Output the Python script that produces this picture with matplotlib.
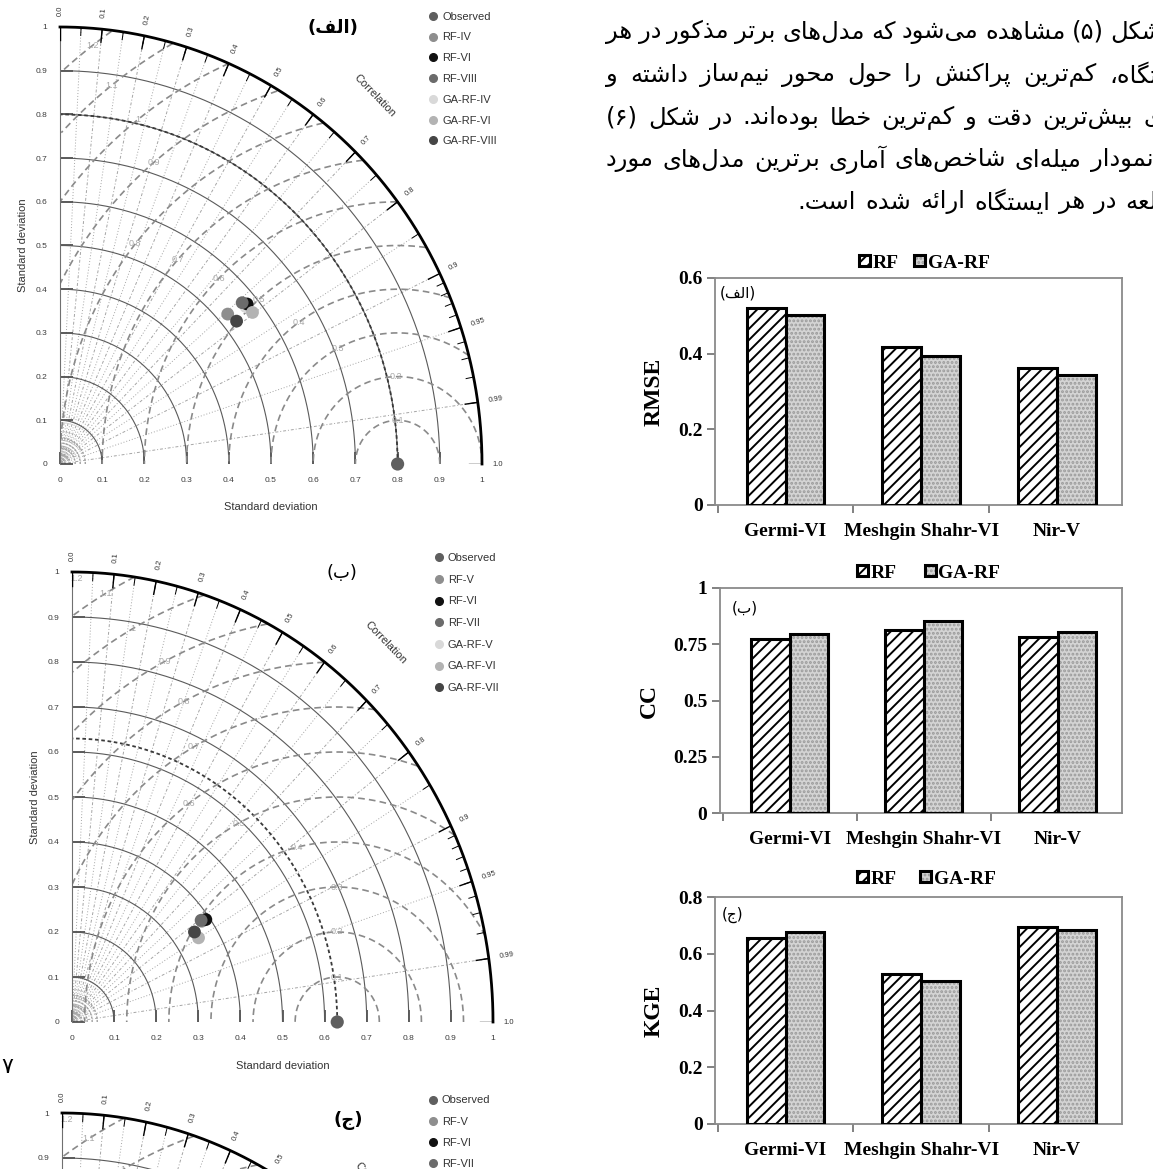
import numpy as np
import matplotlib
matplotlib.use('Agg')
import matplotlib.pyplot as plt
from matplotlib.lines import Line2D

plt.rcParams['font.family'] = ['Liberation Sans', 'DejaVu Sans']
plt.rcParams['hatch.linewidth'] = 1.4

W, H = 1153, 1169

# Taylor diagram (alef): std dev and correlation of each model
t1_obs = 0.80
t1_names = ['RF-IV', 'RF-VI', 'RF-VIII', 'GA-RF-IV', 'GA-RF-VI', 'GA-RF-VIII']
t1_std = [0.525, 0.575, 0.568, 0.569, 0.573, 0.531]
t1_cor = [0.757, 0.771, 0.760, 0.774, 0.796, 0.788]

# Taylor diagram (be)
t2_obs = 0.63
t2_names = ['RF-V', 'RF-VI', 'RF-VII', 'GA-RF-V', 'GA-RF-VI', 'GA-RF-VII']
t2_std = [0.381, 0.391, 0.381, 0.383, 0.354, 0.353]
t2_cor = [0.809, 0.813, 0.805, 0.806, 0.849, 0.824]

# Taylor diagram (jim): only its top edge is on the page
t3_obs = 0.63
t3_names = ['RF-V', 'RF-VI', 'RF-VII', 'GA-RF-V', 'GA-RF-VI', 'GA-RF-VII']

sd_ticks = [0, 0.1, 0.2, 0.3, 0.4, 0.5, 0.6, 0.7, 0.8, 0.9, 1.0]
sd_labels = ['0', '0.1', '0.2', '0.3', '0.4', '0.5', '0.6', '0.7', '0.8', '0.9', '1']
cor_ticks = [0.0, 0.1, 0.2, 0.3, 0.4, 0.5, 0.6, 0.7, 0.8, 0.9, 0.95, 0.99, 1.0]
cor_labels = ['0.0', '0.1', '0.2', '0.3', '0.4', '0.5', '0.6', '0.7', '0.8', '0.9', '0.95', '0.99', '1.0']
rms_levels = [0.1, 0.2, 0.3, 0.4, 0.5, 0.6, 0.7, 0.8, 0.9, 1.0, 1.1, 1.2]
rms_labels = ['0.1', '0.2', '0.3', '0.4', '0.5', '0.6', '0.7', '0.8', '0.9', '1', '1.1', '1.2']

obs_color = '#5f5f5f'
model_colors = ['#8e8e8e', '#111111', '#6b6b6b', '#d9d9d9', '#b3b3b3', '#454545']

# bar charts
stations = ['Germi-VI', 'Meshgin Shahr-VI', 'Nir-V']
rmse_rf = [0.521, 0.417, 0.362]
rmse_ga = [0.503, 0.395, 0.343]
cc_rf = [0.773, 0.815, 0.781]
cc_ga = [0.797, 0.852, 0.806]
kge_rf = [0.655, 0.529, 0.694]
kge_ga = [0.675, 0.505, 0.685]

para = [
    'شکل (\u06f5) مشاهده می\u200cشود که مدل\u200cهای برتر مذکور در هر',
    'ایستگاه، کم\u200cترین پراکنش را حول محور نیم\u200cساز داشته و',
    'دارای بیش\u200cترین دقت و کم\u200cترین خطا بوده\u200cاند. در شکل (\u06f6)',
    'نمودار میله\u200cای شاخص\u200cهای آماری برترین مدل\u200cهای مورد',
    'مطالعه در هر ایستگاه ارائه شده است.',
]

# --- minimal Persian shaping (presentation forms) + visual order ---
DUAL = {'ب': 0xFE8F, 'پ': 0xFB56, 'ت': 0xFE95, 'ث': 0xFE99, 'ج': 0xFE9D, 'چ': 0xFB7A,
        'ح': 0xFEA1, 'خ': 0xFEA5, 'س': 0xFEB1, 'ش': 0xFEB5, 'ص': 0xFEB9, 'ض': 0xFEBD,
        'ط': 0xFEC1, 'ظ': 0xFEC5, 'ع': 0xFEC9, 'غ': 0xFECD, 'ف': 0xFED1, 'ق': 0xFED5,
        'ک': 0xFB8E, 'گ': 0xFB92, 'ل': 0xFEDD, 'م': 0xFEE1, 'ن': 0xFEE5, 'ه': 0xFEE9,
        'ی': 0xFBFC, 'ئ': 0xFE89}
RIGHT = {'ا': 0xFE8D, 'آ': 0xFE81, 'د': 0xFEA9, 'ذ': 0xFEAB, 'ر': 0xFEAD, 'ز': 0xFEAF,
         'ژ': 0xFB8A, 'و': 0xFEED}


def shape(s):
    out = []
    n = len(s)
    i = 0
    while i < n:
        c = s[i]
        prev = s[i - 1] if i > 0 else ''
        nxt = s[i + 1] if i + 1 < n else ''
        jp = prev in DUAL
        if c == 'ل' and nxt in ('ا', 'آ'):
            base = 0xFEFB if nxt == 'ا' else 0xFEF5
            out.append(chr(base + (1 if jp else 0)))
            i += 2
            continue
        if c in DUAL:
            jn = nxt in DUAL or nxt in RIGHT
            form = 3 if (jp and jn) else 1 if jp else 2 if jn else 0
            out.append(chr(DUAL[c] + form))
        elif c in RIGHT:
            out.append(chr(RIGHT[c] + (1 if jp else 0)))
        elif c != '\u200c':
            out.append(c)
        i += 1
    return ''.join(out)


def rtl(s):
    swap = {'(': ')', ')': '('}
    return ''.join(swap.get(ch, ch) for ch in reversed(shape(s)))


fig = plt.figure(figsize=(W / 100, H / 100), dpi=100)
fig.patch.set_facecolor('white')


def rect(x0, y0, x1, y1):
    return [x0 / W, 1 - y1 / H, (x1 - x0) / W, (y1 - y0) / H]


def taylor(box, obs, names, tag, tag_xy, tag_bold, leg_xy, leg_sp, rms_ang, std=None, cor=None, order=None):
    ax = fig.add_axes(rect(*box))
    ax.set_xlim(0, 1)
    ax.set_ylim(0, 1)
    for side in ['top', 'right', 'bottom']:
        ax.spines[side].set_visible(False)
    ax.spines['left'].set_color('#707070')
    ax.set_xticks(sd_ticks, sd_labels)
    ax.set_yticks(sd_ticks, sd_labels)
    ax.tick_params(direction='in', length=9, width=1.2, color='#444444', labelsize=6, labelcolor='#3c3c3c')
    ax.tick_params(axis='x', pad=9)
    ax.tick_params(axis='y', pad=9)
    ax.set_xlabel('Standard deviation', fontsize=8, color='#333333')
    ax.set_ylabel('Standard deviation', fontsize=8, color='#333333')
    ax.xaxis.set_label_coords(0.5, -0.086)
    ax.yaxis.set_label_coords(-0.075, 0.5)

    t = np.linspace(0, np.pi / 2, 300)
    for r in sd_ticks[1:-1]:
        ax.plot(r * np.cos(t), r * np.sin(t), color='#5a5a5a', lw=0.8, zorder=2)
    ax.plot(np.cos(t), np.sin(t), color='black', lw=2.0, clip_on=False, zorder=3)
    ax.plot(obs * np.cos(t), obs * np.sin(t), color='#3a3a3a', lw=1.3, ls=(0, (2, 1.5)), zorder=2)
    for r in [0.012, 0.024, 0.036, 0.048, 0.06]:
        ax.plot(r * np.cos(t), r * np.sin(t), color='#a0a0a0', lw=1.0, ls=(0, (1.5, 1)), zorder=1)

    # correlation rays
    for k in range(1, 20):
        c = k * 0.05
        a = np.arccos(c)
        ls = (0, (3, 2, 1, 2)) if k % 2 == 0 else (0, (1, 2))
        ax.plot([0, np.cos(a)], [0, np.sin(a)], color='#a5a5a5', lw=0.7, ls=ls, zorder=1)
    a = np.arccos(0.99)
    ax.plot([0, np.cos(a)], [0, np.sin(a)], color='#a5a5a5', lw=0.7, ls=(0, (3, 2, 1, 2)), zorder=1)
    for c in list(np.arange(0.05, 0.9, 0.05)) + list(np.arange(0.91, 0.995, 0.01)):
        a = np.arccos(c)
        ax.plot([0.982 * np.cos(a), np.cos(a)], [0.982 * np.sin(a), np.sin(a)], color='black', lw=0.7, zorder=3)
    for c, lab in zip(cor_ticks, cor_labels):
        a = np.arccos(c)
        ax.plot([0.97 * np.cos(a), np.cos(a)], [0.97 * np.sin(a), np.sin(a)], color='black', lw=1.0, zorder=3)
        ax.text(1.025 * np.cos(a), 1.025 * np.sin(a), lab, rotation=np.degrees(a), rotation_mode='anchor',
                ha='left', va='center', fontsize=5.5, color='#333333', clip_on=False)

    # centred RMS difference arcs
    u = np.linspace(0, np.pi, 600)
    for r, lab, ang in zip(rms_levels, rms_labels, rms_ang):
        x = obs + r * np.cos(u)
        y = r * np.sin(u)
        inside = (x >= 0) & (x ** 2 + y ** 2 <= 1.0)
        ax.plot(np.where(inside, x, np.nan), y, color='#8a8a8a', lw=1.2, ls=(0, (4, 2.5)), zorder=2)
        a = np.radians(ang)
        lx, ly = obs + r * np.cos(a), r * np.sin(a)
        rr = np.hypot(lx, ly)
        if rr > 0.985:
            lx, ly = lx * 0.985 / rr, ly * 0.985 / rr
        ax.text(lx, ly, lab, fontsize=6.5, color='#a8a8a8', ha='center', va='center', zorder=2)

    ax.text(0.745, 0.842, 'Correlation', rotation=-46, fontsize=8, color='#333333', ha='center', va='center')
    ax.text(tag_xy[0], tag_xy[1], rtl(tag), fontsize=13, family='DejaVu Sans',
            fontweight='bold' if tag_bold else 'normal', ha='center', va='center', clip_on=False)

    if std is not None:
        s = np.array(std)
        c = np.array(cor)
        px = s * c
        py = s * np.sqrt(1 - c ** 2)
        for i in order:
            ax.scatter(px[i], py[i], s=85, color=model_colors[i], edgecolors='none', zorder=6, clip_on=False)
    ax.scatter([obs], [0], s=90, color=obs_color, edgecolors='none', zorder=6, clip_on=False)

    handles = [Line2D([], [], ls='none', marker='o', ms=5.5, color=obs_color)]
    handles += [Line2D([], [], ls='none', marker='o', ms=5.5, color=col) for col in model_colors]
    ax.legend(handles, ['Observed'] + names, loc='upper left', bbox_to_anchor=leg_xy,
              bbox_transform=ax.transData, frameon=False, fontsize=8, handlelength=1.0,
              handletextpad=0.3, labelspacing=leg_sp, borderpad=0, borderaxespad=0, labelcolor='#333333')
    return ax


taylor((60, 27, 482, 464), t1_obs, t1_names, '(الف)', (0.647, 0.998), True, (0.871, 1.035), 0.97,
       [90, 91, 118, 126, 131, 135, 138, 141, 130, 128, 128, 127],
       t1_std, t1_cor, [3, 1, 2, 0, 4, 5])
taylor((72, 572, 493, 1022), t2_obs, t2_names, '(ب)', (0.641, 0.998), False, (0.858, 1.042), 1.05,
       [90, 90, 90, 104, 118, 126, 119, 117, 117, 119, 120, 121],
       t2_std, t2_cor, [3, 0, 1, 2, 4, 5])
taylor((62, 1113, 483, 1563), t3_obs, t3_names, '(ج)', (0.68, 0.984), True, (0.868, 1.039), 1.0,
       [90, 90, 90, 104, 118, 126, 119, 117, 117, 119, 121, 121])

fig.text(7 / W, 1 - 1067 / H, '\u06f7', fontsize=16, family='DejaVu Sans', ha='center', va='center')


def barchart(box, rf, ga, ymax, ticks, ticklabels, ylabel, ylab_x, leg_px, colsp, tag, tag_px):
    ax = fig.add_axes(rect(*box))
    serif = dict(fontfamily='Liberation Serif', fontweight='bold')
    x = np.arange(len(stations))
    w = 0.287
    b1 = ax.bar(x - w / 2, rf, w, color='white', edgecolor='black', hatch='///', lw=2.2, zorder=3)
    b2 = ax.bar(x + w / 2, ga, w, color='#d4d4d4', edgecolor='#9a9a9a', hatch='....', lw=0, zorder=3)
    b3 = ax.bar(x + w / 2, ga, w, color='none', edgecolor='black', lw=2.2, zorder=4)
    ax.set_xlim(-0.52, 2.48)
    ax.set_ylim(0, ymax)
    ax.set_yticks(ticks, ticklabels, fontsize=14, **serif)
    ax.set_xticks(x, stations, fontsize=14, **serif)
    ax.set_xticks([-0.5, 0.5, 1.5], minor=True)
    ax.tick_params(axis='x', which='major', length=0, pad=13)
    ax.tick_params(axis='x', which='minor', length=6, width=1.3, color='#777777')
    ax.tick_params(axis='y', length=6, width=1.3, color='#777777', pad=3)
    for sp in ax.spines.values():
        sp.set_color('#8a8a8a')
        sp.set_linewidth(1.3)
    ax.set_ylabel(ylabel, fontsize=17, **serif)
    ax.yaxis.set_label_coords(ylab_x, 0.5)
    ax.legend([b1, (b2, b3)], ['RF', 'GA-RF'], ncol=2, loc='center left',
              bbox_to_anchor=(leg_px[0] / W, 1 - leg_px[1] / H), bbox_transform=fig.transFigure,
              frameon=False, prop=dict(family='Liberation Serif', weight='bold', size=14),
              handlelength=0.55, handleheight=0.55, handletextpad=0.15, columnspacing=colsp,
              borderpad=0, borderaxespad=0)
    fig.text(tag_px[0] / W, 1 - tag_px[1] / H, rtl(tag), fontsize=11, family='DejaVu Sans',
             ha='center', va='center')
    return ax


barchart((715, 278, 1122, 505), rmse_rf, rmse_ga, 0.6, [0, 0.2, 0.4, 0.6], ['0', '0.2', '0.4', '0.6'],
         'RMSE', -0.125, (859, 263), 0.8, '(الف)', (738, 293))
barchart((720, 588, 1122, 813), cc_rf, cc_ga, 1.0, [0, 0.25, 0.5, 0.75, 1.0], ['0', '0.25', '0.5', '0.75', '1'],
         'CC', -0.15, (857, 573), 1.45, '(ب)', (745, 608))
barchart((715, 897, 1122, 1124), kge_rf, kge_ga, 0.8, [0, 0.2, 0.4, 0.6, 0.8], ['0', '0.2', '0.4', '0.6', '0.8'],
         'KGE', -0.125, (857, 879), 1.2, '(ج)', (733, 915))

# Persian paragraph, justified word by word (its right edge runs off the page)
renderer = fig.canvas.get_renderer()
para_y = [32, 75, 118, 160, 202]
para_right = [1162, 1193, 1198, 1153, 1198]
para_left = 606
for k, line in enumerate(para):
    words = line.split(' ')
    texts = [fig.text(0, 1 - para_y[k] / H, rtl(wd), fontsize=17.5, family='DejaVu Sans',
                      ha='left', va='center') for wd in words]
    widths = [tx.get_window_extent(renderer).width for tx in texts]
    if k < len(para) - 1:
        gap = max(4.0, (para_right[k] - para_left - sum(widths)) / (len(words) - 1))
    else:
        gap = 9.0
    xpos = para_right[k]
    for tx, wd in zip(texts, widths):
        xpos -= wd
        tx.set_x(xpos / W)
        xpos -= gap

fig.savefig('out.png', dpi=100)
